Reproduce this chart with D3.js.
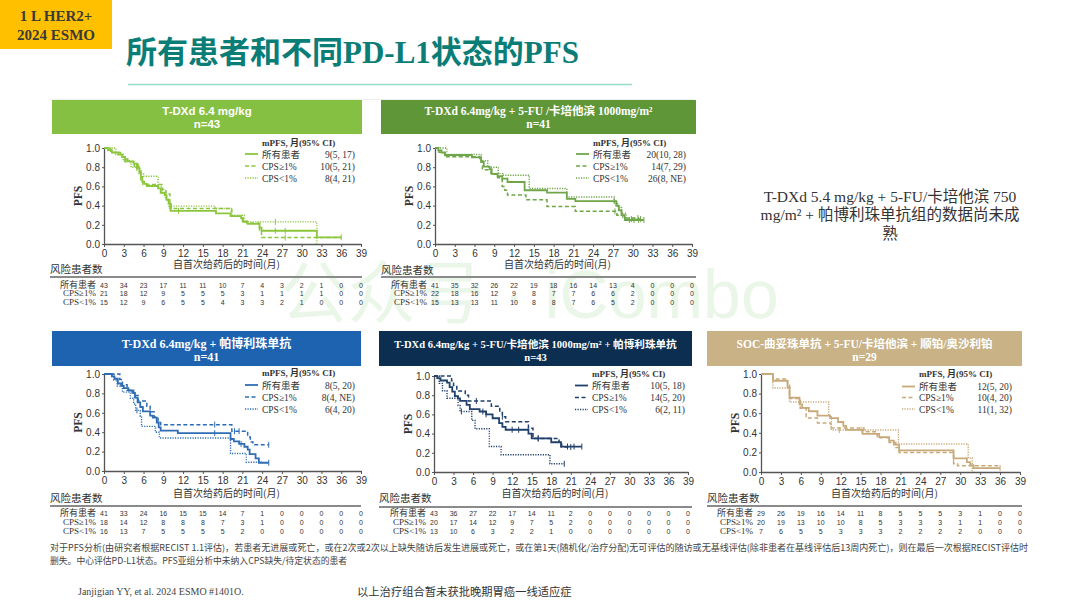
<!DOCTYPE html>
<html><head><meta charset="utf-8">
<script src="https://cdn.jsdelivr.net/npm/d3@7"></script>
<style>body{margin:0;background:#fff;} svg{display:block;}</style>
</head><body>
<svg id="c" width="1080" height="608"></svg>
<script>
// ---------------- DATA ----------------
const xTicks = [0,3,6,9,12,15,18,21,24,27,30,33,36,39];
const yTicks = [0,0.2,0.4,0.6,0.8,1.0];
const seriesNames = ["所有患者","CPS≥1%","CPS<1%"];
const panelTitles = [
  "T-DXd 6.4 mg/kg",
  "T-DXd 6.4mg/kg + 5-FU /卡培他滨 1000mg/m²",
  "T-DXd 6.4mg/kg + 帕博利珠单抗",
  "T-DXd 6.4mg/kg + 5-FU/卡培他滨 1000mg/m² + 帕博利珠单抗",
  "SOC-曲妥珠单抗 + 5-FU/卡培他滨 + 顺铂/奥沙利铂"
];
const panelN = ["n=43","n=41","n=41","n=43","n=29"];
const mpfs1 = ["9(5, 17)","10(5, 21)","8(4, 21)"];
const mpfs2 = ["20(10, 28)","14(7, 29)","26(8, NE)"];
const mpfs3 = ["8(5, 20)","8(4, NE)","6(4, 20)"];
const mpfs4 = ["10(5, 18)","14(5, 20)","6(2, 11)"];
const mpfs5 = ["12(5, 20)","10(4, 20)","11(1, 32)"];

// numbers at risk (months 0..39 step 3)
const riskAll1 = [43,34,23,17,11,11,10,7,4,3,2,1,0,0];
const riskHi1  = [21,18,12,9,5,5,5,3,1,1,1,1,0,0];
const riskLo1  = [15,12,9,6,5,5,4,3,3,2,1,0,0,0];
const riskAll2 = [41,35,32,26,22,19,18,16,14,13,4,0,0,0];
const riskHi2  = [22,18,16,12,9,8,7,7,6,6,2,0,0,0];
const riskLo2  = [15,13,13,11,10,8,8,7,6,5,2,0,0,0];
const riskAll3 = [41,33,24,16,15,15,14,7,1,0,0,0,0,0];
const riskHi3  = [18,14,12,8,8,8,7,3,1,0,0,0,0,0];
const riskLo3  = [16,13,7,5,5,5,5,2,0,0,0,0,0,0];
const riskAll4 = [43,36,27,22,17,14,11,2,0,0,0,0,0,0];
const riskHi4  = [20,17,14,12,9,7,5,2,0,0,0,0,0,0];
const riskLo4  = [13,10,6,3,2,2,1,0,0,0,0,0,0,0];
const riskAll5 = [29,26,19,16,14,11,8,5,5,5,3,1,0,0];
const riskHi5  = [20,19,13,10,10,8,5,3,3,3,1,1,0,0];
const riskLo5  = [7,6,5,5,3,3,3,2,2,2,2,0,0,0];

// Kaplan-Meier step points [month, PFS]
const kmAll1 = [[0,1],[0.6,0.977],[1.2,0.953],[2.2,0.93],[2.8,0.907],[3.2,0.884],[3.6,0.86],[4.5,0.837],[5.0,0.79],[5.4,0.744],[5.6,0.70],[5.8,0.65],[6.1,0.627],[6.5,0.604],[8.2,0.58],[8.6,0.534],[9.2,0.51],[9.5,0.46],[9.8,0.42],[10.1,0.346],[17.0,0.318],[19.2,0.29],[20.8,0.27],[21.1,0.23],[21.8,0.21],[23.6,0.17],[23.9,0.138],[32.3,0.07],[36,0.07]];
const kmHi1 = [[0,1],[1.0,0.952],[2.5,0.905],[3.2,0.857],[4.6,0.81],[5.3,0.76],[5.6,0.667],[5.9,0.62],[8.8,0.571],[9.4,0.52],[10.0,0.37],[19.4,0.29],[21.0,0.24],[21.7,0.22],[23.6,0.145],[23.9,0.067],[36,0.067]];
const kmLo1 = [[0,1],[1.8,0.933],[2.9,0.867],[4.1,0.80],[5.3,0.733],[6.0,0.706],[8.2,0.60],[8.8,0.533],[9.3,0.467],[9.8,0.395],[16.9,0.37],[19.3,0.30],[21.3,0.23],[32.3,0]];
const kmAll2 = [[0,1],[0.5,0.976],[1.0,0.951],[1.5,0.927],[5.6,0.902],[7.0,0.854],[7.4,0.805],[8.3,0.78],[8.6,0.73],[9.5,0.707],[10.2,0.68],[11.0,0.646],[13.6,0.56],[17.0,0.535],[20.0,0.47],[21.3,0.446],[27.5,0.40],[27.9,0.35],[28.3,0.30],[28.8,0.25],[31.7,0.25]];
const kmHi2 = [[0,1],[0.6,0.955],[1.5,0.909],[6.8,0.864],[7.2,0.773],[8.5,0.727],[9.5,0.69],[10.2,0.60],[10.6,0.56],[11.0,0.51],[13.8,0.46],[17.0,0.39],[21.3,0.34],[27.6,0.30],[28.5,0.27],[30.8,0.27]];
const kmLo2 = [[0,1],[1.8,0.933],[5.8,0.933],[7.0,0.867],[8.0,0.80],[9.6,0.733],[10.3,0.716],[14.3,0.578],[20.0,0.49],[27.2,0.44],[27.7,0.38],[28.3,0.32],[29.0,0.26],[31.2,0.26]];
const kmAll3 = [[0,1],[1.2,0.976],[1.6,0.951],[2.1,0.902],[2.6,0.878],[3.0,0.854],[3.7,0.83],[4.3,0.805],[4.7,0.756],[5.1,0.707],[5.5,0.66],[5.9,0.615],[7.0,0.57],[7.4,0.55],[8.0,0.50],[8.3,0.45],[8.6,0.416],[11.2,0.39],[19.2,0.33],[19.7,0.305],[20.5,0.28],[21.3,0.25],[21.8,0.22],[22.1,0.175],[23.0,0.13],[23.5,0.085],[25.0,0.085]];
const kmHi3 = [[0,1],[2.4,0.944],[2.8,0.889],[3.5,0.833],[4.5,0.778],[5.2,0.722],[6.5,0.667],[7.0,0.611],[7.6,0.556],[8.2,0.50],[8.6,0.478],[19.4,0.41],[21.8,0.35],[22.2,0.30],[22.6,0.27],[25.0,0.27]];
const kmLo3 = [[0,1],[1.5,0.938],[2.0,0.875],[2.8,0.813],[4.0,0.75],[4.5,0.69],[4.8,0.625],[5.5,0.563],[5.7,0.46],[7.8,0.40],[8.4,0.34],[19.2,0.18],[21.6,0.09],[24.0,0.09]];
const kmAll4 = [[0,1],[0.5,0.977],[1.0,0.953],[2.0,0.93],[2.4,0.884],[2.8,0.837],[3.2,0.79],[3.7,0.767],[4.0,0.74],[5.0,0.70],[5.5,0.655],[7.0,0.63],[8.0,0.60],[9.0,0.56],[10.0,0.51],[10.5,0.47],[11.0,0.44],[14.5,0.40],[15.0,0.35],[18.0,0.31],[19.5,0.265],[22.7,0.265]];
const kmHi4 = [[0,1],[2.7,0.95],[3.0,0.90],[3.5,0.845],[4.8,0.80],[5.3,0.74],[8.8,0.686],[10.1,0.62],[10.5,0.576],[11.0,0.524],[14.5,0.455],[15.2,0.35],[19.2,0.31],[19.6,0.26],[21.0,0.26]];
const kmLo4 = [[0,1],[0.8,0.923],[1.3,0.846],[2.0,0.769],[3.7,0.692],[4.0,0.63],[5.8,0.538],[6.3,0.45],[8.5,0.265],[10.3,0.18],[17.8,0.086],[20.0,0.086]];
const kmAll5 = [[0,1],[1.8,0.931],[4.0,0.862],[4.3,0.758],[5.8,0.69],[6.2,0.655],[7.2,0.62],[8.5,0.575],[10.4,0.55],[11.6,0.51],[12.4,0.47],[12.8,0.43],[15.3,0.39],[17.8,0.355],[19.3,0.32],[20.0,0.28],[20.8,0.22],[29.0,0.14],[31.0,0.10],[31.5,0.07],[32.0,0.04],[36.0,0.04]];
const kmHi5 = [[0,1],[1.8,0.95],[4.0,0.90],[4.3,0.75],[5.9,0.65],[6.8,0.55],[8.5,0.50],[10.5,0.45],[15.5,0.41],[17.5,0.35],[19.3,0.30],[20.3,0.25],[20.8,0.20],[29.0,0.085],[29.6,0.065],[36.0,0.065]];
const kmLo5 = [[0,1],[1.8,0.857],[4.3,0.714],[10.2,0.571],[10.6,0.429],[20.7,0.286],[31.2,0.143],[31.8,0]];

// censoring times
const cenAll1 = [5.0,11.3,26,27.5,36], cenHi1 = [5.2,27.5], cenLo1 = [5.0,10.2,26];
const cenAll2 = [27.2,29.5,30.2,30.9,31.7], cenHi2 = [27.3,30.8], cenLo2 = [29.8,31.2];
const cenAll3 = [16.8,20.8,25], cenHi3 = [16.8,19.8,20.5,25], cenLo3 = [5.0];
const cenAll4 = [7.5,8.0,12,13,16,20.5,21.5,22.7], cenHi4 = [6.5,10.5,16,21], cenLo4 = [4.2,20];
const cenAll5 = [15.2,29,36], cenHi5 = [], cenLo5 = [11.8];

// ---------------- LAYOUT / STYLE ----------------
const SERIF = "'Liberation Serif','Noto Sans CJK SC',serif";
const SANS = "'Liberation Sans','Noto Sans CJK SC',sans-serif";
const CJK = "'Noto Sans CJK SC','Liberation Sans',sans-serif";
const TXT = "#333";

const layout = [
  {hx:52, hy:100,hw:310,hh:34, x0:104,x1:361,yT:148,yB:244, hf:SANS, hs:11.5, h1:115,h2:128, leg:146, rows:[157.5,169.5,181.5], axT:268, rX:50, rLY:273, rLine:277, rX2:362, rR:[288,296,305], head:"#86c043", col:"#8cc63e"},
  {hx:381,hy:100,hw:315,hh:34, x0:435,x1:692,yT:148,yB:244, hf:SERIF, hs:11.5, h1:115,h2:128, leg:146, rows:[157.5,169.5,181.5], axT:268, rX:381, rLY:274, rLine:277, rX2:696, rR:[288,296,305], head:"#5f9638", col:"#6fa64a"},
  {hx:52, hy:331,hw:309,hh:35, x0:104,x1:361,yT:374,yB:471, hf:SERIF, hs:12, h1:348,h2:361, leg:376, rows:[388.5,400.5,412.5], axT:497, rX:50, rLY:502, rLine:506, rX2:361, rR:[516,525,534], head:"#1d63b0", col:"#2e6db4"},
  {hx:379,hy:331,hw:313,hh:35, x0:434,x1:688,yT:376,yB:472, hf:SERIF, hs:10.6, h1:348,h2:361, leg:377, rows:[389,401,413], axT:497, rX:379, rLY:502, rLine:507, rX2:692, rR:[516,525,534], head:"#0c2e51", col:"#21406b"},
  {hx:707,hy:331,hw:315,hh:35, x0:761,x1:1020,yT:374,yB:472, hf:SERIF, hs:11.5, h1:348,h2:361, leg:377, rows:[390,401,412.5], axT:497, rX:707, rLY:502, rLine:506, rX2:1022, rR:[516,525,534], head:"#c9b286", col:"#c8aa7a"}
];
const panels = [
  {curves:[kmAll1,kmHi1,kmLo1], cens:[cenAll1,cenHi1,cenLo1], risk:[riskAll1,riskHi1,riskLo1], mpfs:mpfs1},
  {curves:[kmAll2,kmHi2,kmLo2], cens:[cenAll2,cenHi2,cenLo2], risk:[riskAll2,riskHi2,riskLo2], mpfs:mpfs2},
  {curves:[kmAll3,kmHi3,kmLo3], cens:[cenAll3,cenHi3,cenLo3], risk:[riskAll3,riskHi3,riskLo3], mpfs:mpfs3},
  {curves:[kmAll4,kmHi4,kmLo4], cens:[cenAll4,cenHi4,cenLo4], risk:[riskAll4,riskHi4,riskLo4], mpfs:mpfs4},
  {curves:[kmAll5,kmHi5,kmLo5], cens:[cenAll5,cenHi5,cenLo5], risk:[riskAll5,riskHi5,riskLo5], mpfs:mpfs5}
];
const lineStyles = [
  {w:1.8, dash:null},
  {w:1.5, dash:"4,2.5"},
  {w:1.4, dash:"1.2,1.3"}
];

const svg = d3.select("#c");

// watermark
svg.append("text").attr("x",280).attr("y",318)
  .style("font-family",SANS).style("font-size","68px")
  .attr("fill","#9ad68c").attr("opacity",0.2)
  .text("公众号 · iCombo");

// badge
svg.append("rect").attr("x",0).attr("y",0).attr("width",112).attr("height",49).attr("fill","#ffc000");
svg.append("text").attr("x",56).attr("y",21).attr("text-anchor","middle")
  .style("font-family",SERIF).style("font-weight","bold").style("font-size","15px").attr("fill","#3a3a3a").text("1 L HER2+");
svg.append("text").attr("x",56).attr("y",40).attr("text-anchor","middle")
  .style("font-family",SERIF).style("font-weight","bold").style("font-size","15px").attr("fill","#3a3a3a").text("2024 ESMO");

// title
svg.append("text").attr("x",126).attr("y",63)
  .style("font-family",SERIF).style("font-weight","bold").style("font-size","31px").attr("fill","#0b7d77")
  .text("所有患者和不同PD-L1状态的PFS");
svg.append("line").attr("x1",128).attr("x2",632).attr("y1",84.5).attr("y2",84.5)
  .attr("stroke","#95dcc8").attr("stroke-width",1.5);
svg.append("line").attr("x1",50).attr("x2",695).attr("y1",99.5).attr("y2",99.5)
  .attr("stroke","#eeeeee").attr("stroke-width",1);

// right note
const noteLines = ["T-DXd 5.4 mg/kg + 5-FU/卡培他滨 750","mg/m² + 帕博利珠单抗组的数据尚未成","熟"];
noteLines.forEach((t,i)=>{
  svg.append("text").attr("x",890).attr("y",[202,220,239][i]).attr("text-anchor","middle")
    .style("font-family",SERIF).style("font-size","15.5px").attr("fill","#333").text(t);
});

function stepVal(curve, t){
  let v = curve[0][1];
  for (const p of curve){ if (p[0] <= t) v = p[1]; else break; }
  return v;
}

panels.forEach((p,i)=>{
  const L = layout[i];
  const g = svg.append("g");
  // header
  g.append("rect").attr("x",L.hx).attr("y",L.hy).attr("width",L.hw).attr("height",L.hh).attr("fill",L.head);
  const cx = L.hx + L.hw/2;
  g.append("text").attr("x",cx).attr("y",L.h1).attr("text-anchor","middle")
    .style("font-family",L.hf).style("font-weight","bold").style("font-size",L.hs+"px").attr("fill","#fff").text(panelTitles[i]);
  g.append("text").attr("x",cx).attr("y",L.h2).attr("text-anchor","middle")
    .style("font-family",L.hf).style("font-weight","bold").style("font-size",L.hs+"px").attr("fill","#fff").text(panelN[i]);

  const x = d3.scaleLinear().domain([0,39]).range([L.x0,L.x1]);
  const y = d3.scaleLinear().domain([0,1]).range([L.yB,L.yT]);

  // axes
  const ax = g.append("g").attr("transform",`translate(0,${L.yB})`)
    .call(d3.axisBottom(x).tickValues(xTicks).tickSize(3).tickSizeOuter(0).tickPadding(3));
  const ay = g.append("g").attr("transform",`translate(${L.x0},0)`)
    .call(d3.axisLeft(y).tickValues(yTicks).tickFormat(d3.format(".1f")).tickSize(2).tickSizeOuter(0).tickPadding(2));
  [ax,ay].forEach(a=>{
    a.select(".domain").attr("stroke","#555").attr("stroke-width",1.3);
    a.selectAll(".tick line").attr("stroke","#555").attr("stroke-width",1);
    a.selectAll(".tick text").style("font-family",SANS).style("font-size","10px").attr("fill",TXT);
  });
  // axis titles
  g.append("text").attr("transform",`translate(${L.x0-22},${(L.yT+L.yB)/2}) rotate(-90)`).attr("text-anchor","middle")
    .style("font-family",SERIF).style("font-weight","bold").style("font-size","11.5px").attr("fill",TXT).text("PFS");
  g.append("text").attr("x",(L.x0+L.x1)/2 - 6).attr("y",L.axT).attr("text-anchor","middle")
    .style("font-family",CJK).style("font-size","10px").attr("fill",TXT).text("自首次给药后的时间(月)");

  // curves
  const line = d3.line().x(d=>x(d[0])).y(d=>y(d[1])).curve(d3.curveStepAfter);
  [2,1,0].forEach(k=>{
    const s = lineStyles[k];
    g.append("path").datum(p.curves[k]).attr("d",line).attr("fill","none")
      .attr("stroke",L.col).attr("stroke-width",s.w).attr("stroke-dasharray",s.dash);
    g.selectAll(null).data(p.cens[k]).enter().append("line")
      .attr("x1",d=>x(d)).attr("x2",d=>x(d))
      .attr("y1",d=>y(stepVal(p.curves[k],d))-3).attr("y2",d=>y(stepVal(p.curves[k],d))+3)
      .attr("stroke",L.col).attr("stroke-width",1);
  });

  // legend
  const lx = L.x0 + 158;
  g.append("text").attr("x",lx).attr("y",L.leg)
    .style("font-family",SERIF).style("font-weight","bold").style("font-size","9px").attr("fill",TXT).text("mPFS, 月(95% CI)");
  seriesNames.forEach((nm,k)=>{
    const s = lineStyles[k];
    const yy = L.rows[k];
    g.append("line").attr("x1",L.x0+141).attr("x2",L.x0+154).attr("y1",yy-3.5).attr("y2",yy-3.5)
      .attr("stroke",L.col).attr("stroke-width",s.w).attr("stroke-dasharray",s.dash);
    g.append("text").attr("x",lx).attr("y",yy)
      .style("font-family",k===0?CJK:SERIF).style("font-size","9.5px").attr("fill",TXT).text(nm);
    g.append("text").attr("x",L.x0+251).attr("y",yy).attr("text-anchor","end")
      .style("font-family",SERIF).style("font-size","9.5px").attr("fill",TXT).text(p.mpfs[k]);
  });

  // risk table
  g.append("text").attr("x",L.rX).attr("y",L.rLY)
    .style("font-family",CJK).style("font-size","10.5px").attr("fill",TXT).text("风险患者数");
  g.append("line").attr("x1",L.rX).attr("x2",L.rX2).attr("y1",L.rLine).attr("y2",L.rLine)
    .attr("stroke","#8a8a8a").attr("stroke-width",2);
  seriesNames.forEach((nm,k)=>{
    g.append("text").attr("x",L.x0-8).attr("y",L.rR[k]).attr("text-anchor","end")
      .style("font-family",k===0?CJK:SERIF).style("font-size","9px").attr("fill",TXT).text(nm);
    g.selectAll(null).data(p.risk[k]).enter().append("text")
      .attr("x",(d,j)=>x(xTicks[j])).attr("y",L.rR[k]-0.5).attr("text-anchor","middle")
      .style("font-family",SANS).style("font-size","7px").attr("fill",TXT).text(d=>d);
  });
});

// footnotes
const foot1 = "对于PFS分析(由研究者根据RECIST 1.1评估)，若患者无进展或死亡，或在2次或2次以上缺失随访后发生进展或死亡，或在第1天(随机化/治疗分配)无可评估的随访或无基线评估(除非患者在基线评估后13周内死亡)，则在最后一次根据RECIST评估时";
const foot2 = "删失。中心评估PD-L1状态。PFS亚组分析中未纳入CPS缺失/待定状态的患者";
svg.append("text").attr("x",50).attr("y",551).attr("textLength",978).attr("lengthAdjust","spacingAndGlyphs")
  .style("font-family",CJK).style("font-size","8.8px").attr("fill","#444").text(foot1);
svg.append("text").attr("x",50).attr("y",564)
  .style("font-family",CJK).style("font-size","8.8px").attr("fill","#444").text(foot2);
svg.append("text").attr("x",78).attr("y",595)
  .style("font-family",SERIF).style("font-size","10px").attr("fill","#444").text("Janjigian YY, et al. 2024 ESMO #1401O.");
svg.append("text").attr("x",357).attr("y",596)
  .style("font-family",CJK).style("font-size","11.3px").attr("fill","#333").text("以上治疗组合暂未获批晚期胃癌一线适应症");
</script>
</body></html>
